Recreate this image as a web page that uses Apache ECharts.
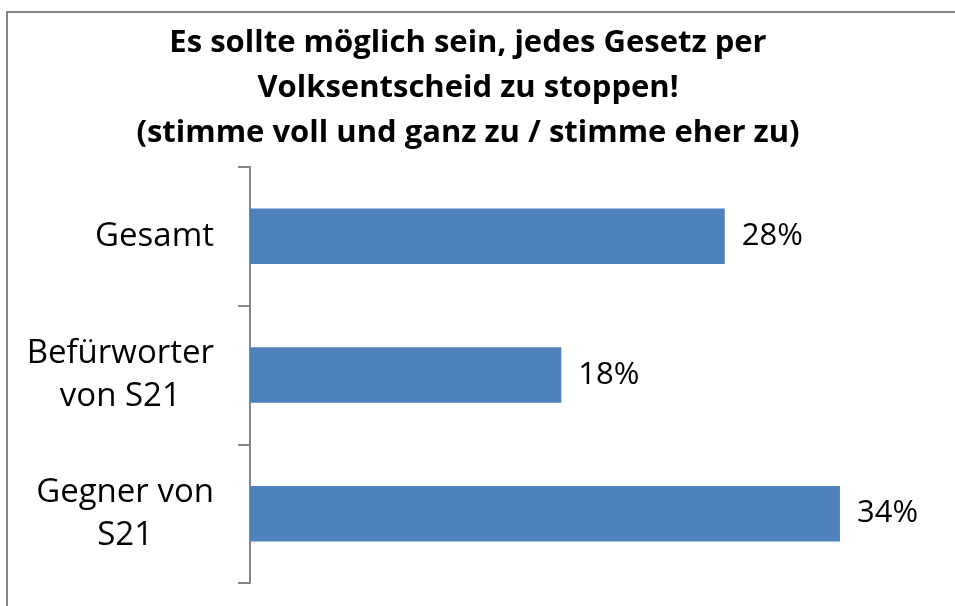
<!DOCTYPE html>
<html>
<head>
<meta charset="utf-8">
<script src="https://cdn.jsdelivr.net/npm/echarts@6/dist/echarts.min.js"></script>
<style>
  html, body { margin: 0; padding: 0; background: #fff; }
  #chart { width: 955px; height: 606px; }
</style>
</head>
<body>
<div id="chart"></div>
<script>
    // Werte
    var categories = ['Gesamt', 'Befürworter\nvon S21', 'Gegner von\nS21'];
    var values = [27.6, 18.1, 34.3];
    var titleLines = [
        'Es sollte möglich sein, jedes Gesetz per',
        'Volksentscheid zu stoppen!',
        '(stimme voll und ganz zu / stimme eher zu)'
    ];

    var myChart = echarts.init(document.getElementById('chart'));
    var option = {
        backgroundColor: '#fff',
        animation: false,
        textStyle: { fontFamily: 'Open Sans' },
        title: {
            text: titleLines.join('\n'),
            left: 463,
            top: 16,
            textAlign: 'center',
            textStyle: {
                fontFamily: 'Open Sans',
                fontWeight: 'bold',
                fontSize: 31,
                lineHeight: 45,
                color: '#000'
            }
        },
        graphic: [{
            type: 'rect',
            shape: { x: 7, y: 12, width: 1000, height: 1000 },
            style: { fill: 'none', stroke: '#868686', lineWidth: 2 },
            silent: true
        }],
        grid: {
            left: 250,
            right: 17,
            top: 167,
            bottom: 23
        },
        xAxis: {
            type: 'value',
            min: 0,
            max: 40,
            show: false
        },
        yAxis: {
            type: 'category',
            data: categories,
            inverse: true,
            axisLine: { show: true, lineStyle: { color: '#868686', width: 2 } },
            axisTick: { show: true, length: 12, lineStyle: { color: '#868686', width: 2 } },
            axisLabel: {
                align: 'right',
                margin: 36,
                color: '#000',
                formatter: function (v) {
                    return v.split('\n').map(function (s) { return '{c|' + s + '}'; }).join('\n');
                },
                rich: {
                    c: {
                        align: 'center',
                        fontSize: 33,
                        lineHeight: 43,
                        color: '#000',
                        fontFamily: 'Open Sans'
                    }
                }
            }
        },
        series: [{
            type: 'bar',
            data: values,
            barCategoryGap: '60%',
            itemStyle: { color: '#4F81BD' },
            label: {
                show: true,
                position: 'right',
                distance: 17,
                fontSize: 31,
                color: '#000',
                fontFamily: 'Open Sans',
                formatter: function (p) { return Math.round(p.value) + '%'; }
            }
        }]
    };
    myChart.setOption(option);
</script>
</body>
</html>
